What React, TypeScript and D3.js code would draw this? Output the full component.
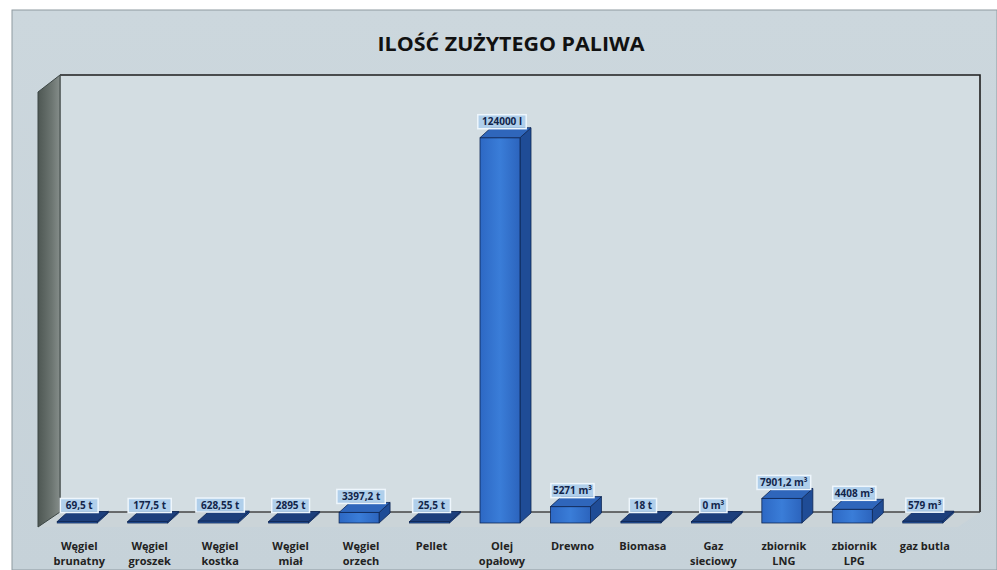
import React from "react";
import * as d3 from "d3";

const categories = [
  ["Węgiel", "brunatny"],
  ["Węgiel", "groszek"],
  ["Węgiel", "kostka"],
  ["Węgiel", "miał"],
  ["Węgiel", "orzech"],
  ["Pellet"],
  ["Olej", "opałowy"],
  ["Drewno"],
  ["Biomasa"],
  ["Gaz", "sieciowy"],
  ["zbiornik", "LNG"],
  ["zbiornik", "LPG"],
  ["gaz butla"],
];
const values = [69.5, 177.5, 628.55, 289.5, 3397.2, 25.5, 124000, 5271, 18, 0, 7901.2, 4408, 579];
const valueLabels = ["69,5 t", "177,5 t", "628,55 t", "2895 t", "3397,2 t", "25,5 t", "124000 l", "5271 m³", "18 t", "0 m³", "7901,2 m³", "4408 m³", "579 m³"];
const title = "ILOŚĆ ZUŻYTEGO PALIWA";

export default function App() {
  const W = 997, H = 570;
  const keys = categories.map((c, i) => String(i));
  const x = d3.scaleBand().domain(keys).range([44, 960]).padding(0);
  const y = d3.scaleLinear().domain([0, 140000]).range([523, 88]);
  const bw = 40, ddx = 11, ddy = -10;
  const wall = { l: 60, r: 980, t: 75, b: 512 };
  const wdx = -22, wdy = 15;
  const pts = (a: number[][]) => a.map((p) => p.join(",")).join(" ");

  return (
    <svg width={W} height={H} style={{ position: "absolute", left: 0, top: 0 }} fontFamily="'Open Sans', sans-serif">
      <defs>
        <linearGradient id="bg" x1="0" y1="0" x2="0" y2="1">
          <stop offset="0" stopColor="#ccd7dd" />
          <stop offset="1" stopColor="#c6d2d9" />
        </linearGradient>
        <linearGradient id="front" x1="0" y1="0" x2="1" y2="0">
          <stop offset="0" stopColor="#2d68c4" />
          <stop offset="0.5" stopColor="#3a7dd8" />
          <stop offset="1" stopColor="#2c64bd" />
        </linearGradient>
        <linearGradient id="side" x1="0" y1="0" x2="1" y2="0">
          <stop offset="0" stopColor="#4e5753" />
          <stop offset="0.6" stopColor="#6b7470" />
          <stop offset="1" stopColor="#858d8a" />
        </linearGradient>
      </defs>
      <rect x={0} y={0} width={W} height={H} fill="#ffffff" />
      <rect x={12} y={10} width={W - 12} height={H - 10} fill="url(#bg)" stroke="#8e9aa0" strokeWidth={1} />
      <text x={511} y={51} textAnchor="middle" fontSize={20} fontWeight="bold" fill="#111" textLength={267} lengthAdjust="spacingAndGlyphs">{title}</text>

      {/* floor */}
      <polygon points={pts([[wall.l, wall.b], [wall.r, wall.b], [wall.r + wdx, wall.b + wdy], [wall.l + wdx, wall.b + wdy]])} fill="#cbd4d8" />
      {/* back wall */}
      <rect x={wall.l} y={wall.t} width={wall.r - wall.l} height={wall.b - wall.t} fill="#d3dde2" />
      <path d={`M${wall.l},${wall.t} H${wall.r} V${wall.b}`} fill="none" stroke="#1e1e1e" strokeWidth={1.6} />
      <line x1={wall.l} y1={wall.t} x2={wall.l} y2={wall.b} stroke="#555" strokeWidth={1} />
      <line x1={wall.l} y1={wall.b} x2={wall.r} y2={wall.b} stroke="#444" strokeWidth={1.4} />
      {/* side wall */}
      <polygon points={pts([[wall.l, wall.t], [wall.l, wall.b], [wall.l + wdx, wall.b + wdy], [wall.l + wdx, wall.t + 17]])} fill="url(#side)" stroke="#3c4644" strokeWidth={1} />

      {/* bars */}
      {values.map((v, i) => {
        const cx = (x(String(i)) as number) + x.bandwidth() / 2 - 2;
        const x0 = cx - bw / 2, x1 = cx + bw / 2;
        const yb = y(0);
        const yt = Math.min(y(v), yb - 1.5);
        const flat = yb - yt < 4;
        return (
          <g key={i}>
            <polygon points={pts([[x1, yb], [x1 + ddx, yb + ddy], [x1 + ddx, yt + ddy], [x1, yt]])} fill="#1f4c96" stroke="#0e2654" strokeWidth={0.8} />
            <rect x={x0} y={yt} width={bw} height={yb - yt} fill={flat ? "#2a5aa8" : "url(#front)"} stroke="#0e2654" strokeWidth={0.8} />
            <polygon points={pts([[x0, yt], [x1, yt], [x1 + ddx, yt + ddy], [x0 + ddx, yt + ddy]])} fill={flat ? "#1d3f7c" : "#2f66bb"} stroke="#0e2654" strokeWidth={0.8} />
          </g>
        );
      })}

      {/* value labels */}
      {values.map((v, i) => {
        const cx = (x(String(i)) as number) + x.bandwidth() / 2;
        const yt = Math.min(y(v), y(0) - 1.5);
        const cy = yt - 16;
        const tw = valueLabels[i].length * 5.3 + 6;
        return (
          <g key={"l" + i}>
            <rect x={cx - tw / 2} y={cy - 7} width={tw} height={14} fill="#a9cdec" fillOpacity={0.85} stroke="#eef6fc" strokeWidth={1.5} />
            <text x={cx} y={cy + 3.5} textAnchor="middle" fontSize={10} fontWeight="bold" fill="#12254a">{valueLabels[i]}</text>
          </g>
        );
      })}

      {/* category labels */}
      {categories.map((c, i) => {
        const cx = (x(String(i)) as number) + x.bandwidth() / 2;
        return (
          <text key={"c" + i} textAnchor="middle" fontSize={11} fontWeight="bold" fill="#222">
            {c.map((line, j) => (
              <tspan key={j} x={cx} y={550 + j * 15}>{line}</tspan>
            ))}
          </text>
        );
      })}
    </svg>
  );
}
